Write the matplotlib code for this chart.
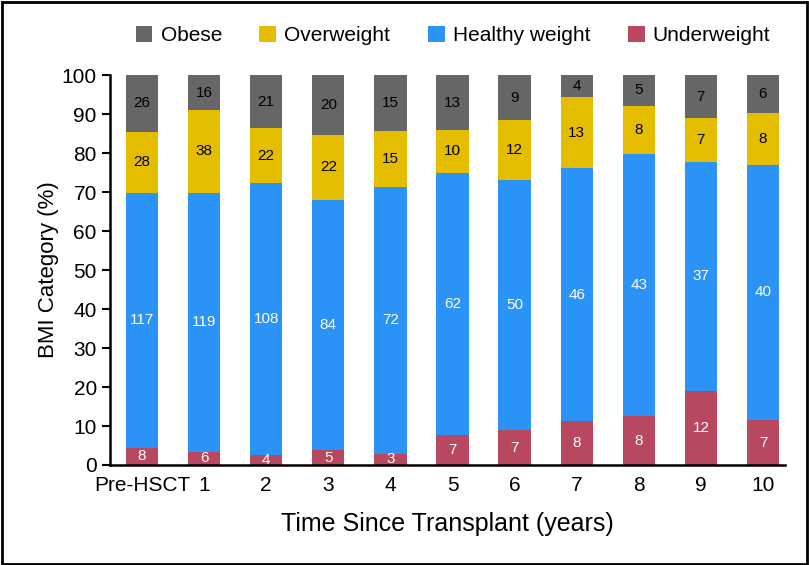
import numpy as np
import matplotlib.pyplot as plt
from matplotlib.patches import Rectangle

# data (counts per BMI category)
years = ['Pre-HSCT', '1', '2', '3', '4', '5', '6', '7', '8', '9', '10']
underweight = [8, 6, 4, 5, 3, 7, 7, 8, 8, 12, 7]
healthy = [117, 119, 108, 84, 72, 62, 50, 46, 43, 37, 40]
overweight = [28, 38, 22, 22, 15, 10, 12, 13, 8, 7, 8]
obese = [26, 16, 21, 20, 15, 13, 9, 4, 5, 7, 6]

series = [('Underweight', underweight, '#B8485F', 'white'),
          ('Healthy weight', healthy, '#2B93F5', 'white'),
          ('Overweight', overweight, '#E5BD00', 'black'),
          ('Obese', obese, '#666666', 'black')]

plt.rcParams['font.family'] = ['Liberation Sans', 'DejaVu Sans']

fig = plt.figure(figsize=(8.09, 5.65), dpi=100)
ax = fig.add_axes([0.136, 0.177, 0.834, 0.690])

x = np.arange(len(years))
totals = np.sum([s[1] for s in series], axis=0)
bottom = np.zeros(len(years))
handles = {}
for name, counts, color, tcolor in series:
    pct = np.array(counts) / totals * 100
    bars = ax.bar(x, pct, 0.52, bottom=bottom, color=color, label=name)
    handles[name] = bars
    for xi, b, p, c in zip(x, bottom, pct, counts):
        ax.text(xi, b + p / 2, str(c), ha='center', va='center',
                color=tcolor, fontsize=11)
    bottom += pct

ax.set_xlim(-0.515, 10.35)
ax.set_ylim(0, 100)
ax.set_yticks(range(0, 101, 10))
ax.set_xticks(x)
ax.set_xticklabels(years)
ax.tick_params(axis='x', length=0, labelsize=15, pad=8)
ax.tick_params(axis='y', length=6, width=1.5, labelsize=15)
for side in ['top', 'right']:
    ax.spines[side].set_visible(False)
for side in ['left', 'bottom']:
    ax.spines[side].set_linewidth(1.8)
ax.set_ylabel('BMI Category (%)', fontsize=16, labelpad=2)
ax.set_xlabel('Time Since Transplant (years)', fontsize=18, labelpad=12)

order = ['Obese', 'Overweight', 'Healthy weight', 'Underweight']
fig.legend([handles[n] for n in order], order, loc='center', ncol=4,
           bbox_to_anchor=(0.56, 0.937), frameon=False, fontsize=15,
           handlelength=0.8, handleheight=0.8, handletextpad=0.4, columnspacing=1.8)

fig.patches.append(Rectangle((0.002, 0.002), 0.996, 0.994, transform=fig.transFigure,
                             fill=False, edgecolor='black', linewidth=2))

fig.savefig('out.png', dpi=100)
